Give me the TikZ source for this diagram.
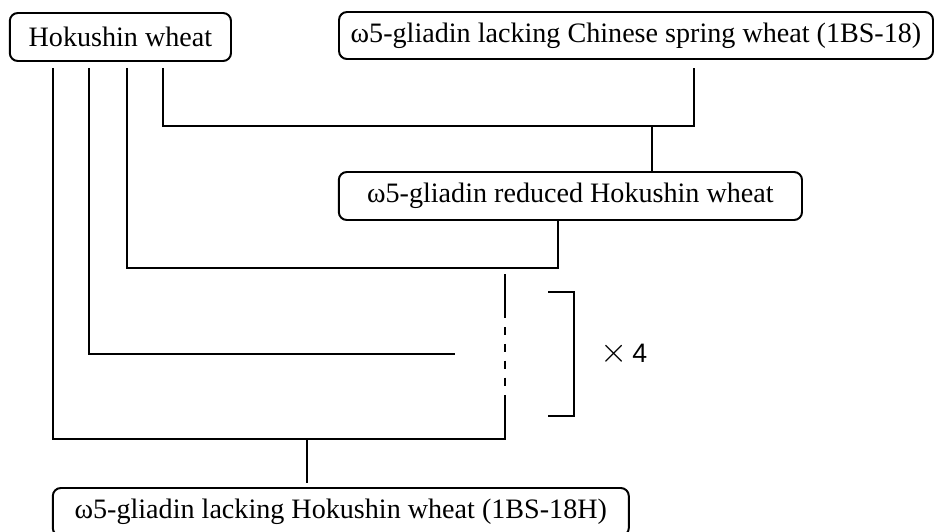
\documentclass[tikz,border=0pt]{standalone}
\usepackage{fontspec}
\setmainfont{Liberation Serif}
\newfontfamily\sansx{Liberation Sans}
\usetikzlibrary{calc,positioning}

\begin{document}
\begin{tikzpicture}[line width=1.4pt,
  box/.style={draw,rounded corners=0.2cm,minimum height=1.2cm,inner sep=0pt,font=\fontsize{20}{24}\selectfont}]
\useasboundingbox (0,0) rectangle (23.35,-13.275);
\node[box,minimum width=5.53cm] (H) at (3.01,-0.925) {Hokushin wheat};
\node[box,minimum width=14.85cm,minimum height=1.175cm] (C) at (15.9,-0.8875) {ω5-gliadin lacking Chinese spring wheat (1BS-18)};
\node[box,minimum width=11.58cm] (R) at (14.26,-4.9) {ω5-gliadin reduced Hokushin wheat};
\node[box,minimum width=14.4cm] (L) at (8.52,-12.8) {ω5-gliadin lacking Hokushin wheat (1BS-18H)};
% crossing points
\coordinate (P1) at (4.075,-3.15);
\coordinate (Q1) at (17.35,-3.15);
\coordinate (J1) at (16.3,-3.15);
\coordinate (P2) at (3.175,-6.7);
\coordinate (Q2) at (13.95,-6.7);
\coordinate (P3) at (2.225,-8.85);
\coordinate (Q3) at (11.375,-8.85);
\coordinate (P4) at (1.325,-10.975);
\coordinate (Q4) at (12.625,-10.975);
\coordinate (J4) at (7.675,-10.975);
\draw ([yshift=-0.15cm]H.south -| P1) -- (P1) -- (Q1) -- ([yshift=-0.2cm]C.south -| Q1);
\draw (J1) -- (J1 |- R.north);
\draw ([yshift=-0.15cm]H.south -| P2) -- (P2) -- (Q2) -- (Q2 |- R.south);
\draw ([yshift=-0.15cm]H.south -| P3) -- (P3) -- (Q3);
\draw ([yshift=-0.15cm]H.south -| P4) -- (P4) -- (Q4) -- ($(Q4)+(0,1.1)$);
\draw ($(Q4)+(0,4.125)$) -- ($(Q4)+(0,3.025)$);
\draw[dash pattern=on 5.7pt off 6.3pt] ($(Q4)+(0,2.8)$) -- ($(Q4)+(0,1.3)$);
\draw (J4) -- ([yshift=0.1cm]L.north -| J4);
% repeat bracket
\draw (13.7,-7.3) -- (14.35,-7.3) -- (14.35,-10.4) -- (13.7,-10.4);
\node[font=\sansx\fontsize{19}{22}\selectfont] (X) at (15.6,-8.85) {{\fontsize{30}{32}\selectfont$\times$}\,4};
\end{tikzpicture}
\end{document}
